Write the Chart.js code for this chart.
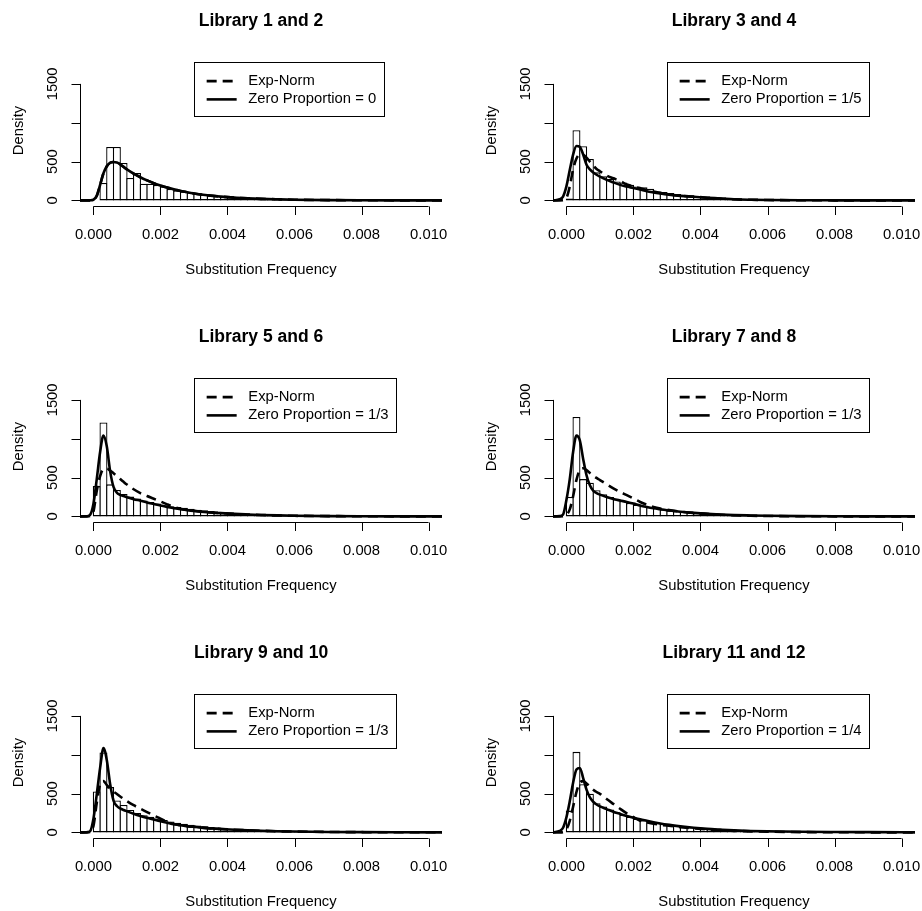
<!DOCTYPE html>
<html>
<head>
<meta charset="utf-8">
<script src="https://cdn.jsdelivr.net/npm/chart.js@4.4.1/dist/chart.umd.min.js"></script>
<style>
  body { margin: 0; background: #fff; }
  #page { position: relative; width: 922px; height: 911px; overflow: hidden; background: #fff; }
  #page canvas { position: absolute; }
</style>
</head>
<body>
<div id="page"></div>
<script>
// panel titles and legend labels
const titles = ['Library 1 and 2', 'Library 3 and 4', 'Library 5 and 6',
                'Library 7 and 8', 'Library 9 and 10', 'Library 11 and 12'];
const zeroProportions = ['0', '1/5', '1/3', '1/3', '1/3', '1/4'];

const xTicks = [0, 0.002, 0.004, 0.006, 0.008, 0.01];
const xTickLabels = ['0.000', '0.002', '0.004', '0.006', '0.008', '0.010'];
const yTicks = [0, 500, 1000, 1500];
const yTickLabels = ['0', '500', '', '1500']; // R drops the 1000 label (overlap)
const xLabel = 'Substitution Frequency';
const yLabel = 'Density';

// histogram bins, width 0.0002 from 0 to 0.01
const BIN = 0.0002;
const binMids = Array.from({ length: 50 }, (_, k) => (k + 0.5) * BIN);

const hist12 = [0, 224, 688, 688, 482, 288, 353, 215, 215, 200,
                180, 146, 129, 116, 103, 86, 77, 69, 60, 52,
                47, 39, 34, 30, 26, 22, 18, 15, 13, 11,
                9, 8, 7, 6, 5, 4, 3, 3, 2, 2,
                2, 1, 1, 1, 1, 1, 0, 0, 0, 0];
const hist34 = [25, 903, 697, 533, 361, 310, 275, 245, 232, 202,
                180, 168, 150, 116, 107, 95, 82, 73, 65, 56,
                47, 39, 34, 26, 22, 18, 14, 11, 9, 7,
                5, 4, 3, 2, 2, 1, 1, 1, 1, 0,
                0, 0, 0, 0, 0, 0, 0, 0, 0, 0];
const hist56 = [390, 1210, 413, 340, 290, 255, 230, 205, 186, 165,
                143, 130, 121, 113, 100, 87, 78, 69, 61, 52,
                43, 39, 35, 30, 26, 22, 18, 15, 12, 10,
                8, 6, 5, 4, 3, 2, 2, 1, 1, 1,
                0, 0, 0, 0, 0, 0, 0, 0, 0, 0];
const hist78 = [250, 1279, 480, 433, 338, 286, 251, 221, 199, 173,
                152, 134, 121, 108, 91, 78, 69, 60, 52, 45,
                39, 34, 29, 25, 21, 17, 14, 11, 9, 7,
                6, 5, 4, 3, 2, 2, 1, 1, 1, 1,
                0, 0, 0, 0, 0, 0, 0, 0, 0, 0];
const hist910 = [527, 1028, 583, 410, 354, 290, 250, 222, 200, 180,
                 160, 140, 124, 110, 99, 88, 78, 69, 62, 55,
                 48, 43, 38, 33, 29, 25, 21, 18, 15, 13,
                 11, 9, 8, 7, 6, 5, 4, 3, 3, 2,
                 2, 2, 1, 1, 1, 1, 1, 0, 0, 0];
const hist1112 = [281, 1037, 620, 497, 376, 333, 294, 259, 229, 203,
                  177, 156, 134, 121, 108, 95, 86, 78, 69, 60,
                  52, 43, 39, 34, 30, 26, 22, 19, 16, 13,
                  11, 9, 8, 7, 6, 5, 4, 3, 3, 2,
                  2, 2, 1, 1, 1, 1, 1, 0, 0, 0];

// fitted densities, sampled at curveX
const curveX = [-0.0004, -0.0002, -0.0001, 0, 0.0001, 0.0002, 0.0003, 0.0004, 0.0005, 0.0006,
                0.0007, 0.0008, 0.0009, 0.001, 0.0012, 0.0014, 0.0016, 0.0018, 0.002, 0.0022,
                0.0024, 0.0026, 0.0028, 0.003, 0.0034, 0.0038, 0.0042, 0.0046, 0.005, 0.0055,
                0.006, 0.007, 0.008, 0.009, 0.0104];

const exp12 = [0, 0, 1, 8, 60, 200, 350, 440, 485, 495,
               488, 465, 432, 400, 345, 298, 258, 222, 192, 165,
               142, 122, 105, 90, 66, 49, 36, 27, 20, 14,
               9, 4, 2, 1, 0];
const zero12 = [0, 0, 1, 8, 60, 200, 350, 440, 485, 495,
                488, 465, 432, 400, 345, 298, 258, 222, 192, 165,
                142, 122, 105, 90, 66, 49, 36, 27, 20, 14,
                9, 4, 2, 1, 0];

const exp34 = [0, 0, 2, 30, 180, 400, 540, 590, 585, 550,
               500, 450, 405, 375, 320, 285, 250, 205, 180, 155,
               135, 115, 97, 82, 60, 48, 35, 24, 14, 8,
               5, 2, 1, 0, 0];
const zero34 = [0, 15, 50, 180, 390, 590, 700, 690, 590, 460,
                400, 360, 330, 305, 265, 232, 200, 178, 160, 140,
                118, 102, 88, 75, 58, 47, 35, 25, 14, 8,
                5, 2, 1, 0, 0];

const exp56 = [0, 0, 5, 60, 330, 520, 610, 615, 590, 555,
               520, 482, 445, 410, 350, 300, 262, 228, 192, 155,
               122, 98, 84, 72, 55, 43, 32, 24, 18, 12,
               8, 4, 2, 1, 0];
const zero56 = [0, 2, 20, 160, 480, 830, 1040, 900, 580, 380,
                305, 278, 262, 248, 222, 202, 180, 160, 140, 122,
                105, 92, 80, 70, 54, 42, 32, 25, 19, 13,
                9, 4, 2, 1, 0];

const exp78 = [0, 0, 2, 20, 90, 260, 470, 600, 620, 595,
               560, 525, 495, 468, 415, 360, 315, 273, 230, 186,
               150, 121, 100, 85, 62, 45, 33, 22, 14, 8,
               5, 2, 1, 0, 0];
const zero78 = [0, 5, 25, 210, 480, 830, 1040, 980, 740, 530,
                400, 330, 300, 280, 250, 225, 205, 186, 165, 140,
                121, 105, 92, 80, 60, 45, 33, 24, 17, 12,
                8, 4, 2, 1, 0];

const exp910 = [0, 0, 5, 80, 380, 620, 660, 610, 565, 525,
                495, 462, 432, 402, 350, 305, 262, 218, 178, 135,
                108, 92, 80, 72, 55, 44, 35, 27, 21, 15,
                11, 6, 3, 2, 1];
const zero910 = [0, 3, 15, 173, 490, 830, 1085, 930, 620, 410,
                 340, 308, 288, 272, 240, 212, 188, 165, 145, 125,
                 105, 92, 80, 72, 55, 44, 35, 27, 21, 15,
                 11, 6, 3, 2, 1];

const exp1112 = [0, 0, 3, 40, 150, 330, 520, 640, 660, 630,
                 590, 550, 520, 497, 430, 367, 305, 246, 195, 151,
                 130, 112, 99, 88, 68, 52, 39, 28, 20, 13,
                 9, 4, 2, 1, 0];
const zero1112 = [0, 20, 60, 194, 400, 640, 810, 830, 700, 550,
                  450, 395, 360, 335, 300, 265, 238, 212, 188, 168,
                  150, 132, 115, 100, 78, 60, 46, 36, 27, 19,
                  14, 8, 5, 3, 1];

const hists = [hist12, hist34, hist56, hist78, hist910, hist1112];
const expNorms = [exp12, exp34, exp56, exp78, exp910, exp1112];
const zeroProps = [zero12, zero34, zero56, zero78, zero910, zero1112];

const FONT = '"Liberation Sans", Arial, Helvetica, sans-serif';
const colX = [0, 473];
const rowY = [0, 316, 632];

// R-like axes, labels, title and boxed legend, all placed with the chart's scales
const rAxes = {
  id: 'rAxes',
  afterDraw(chart, args, opts) {
    const { ctx, chartArea: a, scales: { x, y } } = chart;
    const midX = (a.left + a.right) / 2;
    ctx.save();
    ctx.strokeStyle = '#000';
    ctx.fillStyle = '#000';
    ctx.lineWidth = 1;

    // x axis
    const xb = a.bottom + 0.5;
    ctx.beginPath();
    ctx.moveTo(x.getPixelForValue(xTicks[0]), xb);
    ctx.lineTo(x.getPixelForValue(xTicks[xTicks.length - 1]), xb);
    xTicks.forEach(v => {
      const px = Math.round(x.getPixelForValue(v)) + 0.5;
      ctx.moveTo(px, xb);
      ctx.lineTo(px, xb + 8.5);
    });
    // y axis
    const yl = a.left + 0.5;
    ctx.moveTo(yl, y.getPixelForValue(yTicks[0]));
    ctx.lineTo(yl, y.getPixelForValue(yTicks[yTicks.length - 1]));
    yTicks.forEach(v => {
      const py = Math.round(y.getPixelForValue(v)) + 0.5;
      ctx.moveTo(yl, py);
      ctx.lineTo(yl - 9, py);
    });
    ctx.stroke();

    ctx.font = '14.8px ' + FONT;
    ctx.textAlign = 'center';
    ctx.textBaseline = 'middle';
    xTicks.forEach((v, k) => ctx.fillText(xTickLabels[k], x.getPixelForValue(v), a.bottom + 29));
    yTicks.forEach((v, k) => {
      ctx.save();
      ctx.translate(a.left - 27, y.getPixelForValue(v));
      ctx.rotate(-Math.PI / 2);
      ctx.fillText(yTickLabels[k], 0, 0);
      ctx.restore();
    });
    ctx.fillText(xLabel, midX, a.bottom + 64);
    ctx.save();
    ctx.translate(18.5, (a.top + a.bottom) / 2);
    ctx.rotate(-Math.PI / 2);
    ctx.fillText(yLabel, 0, 0);
    ctx.restore();

    ctx.font = 'bold 17.5px ' + FONT;
    ctx.fillText(opts.title, midX, 21);

    // legend box at (0.003, 1800) in data units
    ctx.font = '14.8px ' + FONT;
    const lines = chart.data.datasets.filter(d => d.type === 'line');
    const lx = x.getPixelForValue(0.003);
    const ly = y.getPixelForValue(1800) + 1;
    const tw = Math.max(...lines.map(d => ctx.measureText(d.label).width));
    ctx.fillStyle = '#fff';
    ctx.fillRect(lx, ly, 54.3 + tw + 7.5, 54.3);
    ctx.strokeRect(Math.round(lx) + 0.5, Math.round(ly) + 0.5, Math.round(54.3 + tw + 7.5), 54);
    ctx.fillStyle = '#000';
    ctx.textAlign = 'left';
    lines.forEach((d, k) => {
      const ry = ly + 19.5 + k * 18.3;
      ctx.save();
      ctx.lineWidth = d.borderWidth;
      ctx.setLineDash(d.borderDash || []);
      ctx.beginPath();
      ctx.moveTo(lx + 12.7, ry);
      ctx.lineTo(lx + 42.7, ry);
      ctx.stroke();
      ctx.restore();
      ctx.fillText(d.label, lx + 54.3, ry);
    });
    ctx.restore();
  }
};

const page = document.getElementById('page');

titles.forEach((title, i) => {
  const canvas = document.createElement('canvas');
  canvas.width = 461;
  canvas.height = 316;
  canvas.style.left = colX[i % 2] + 'px';
  canvas.style.top = rowY[Math.floor(i / 2)] + 'px';
  page.appendChild(canvas);

  new Chart(canvas, {
    type: 'bar',
    data: {
      datasets: [
        {
          type: 'line',
          label: 'Exp-Norm',
          data: curveX.map((v, k) => ({ x: v, y: expNorms[i][k] })),
          borderColor: '#000',
          borderWidth: 2.6,
          borderDash: [10, 6],
          borderJoinStyle: 'round',
          pointRadius: 0,
          cubicInterpolationMode: 'monotone',
          order: 1
        },
        {
          type: 'line',
          label: 'Zero Proportion = ' + zeroProportions[i],
          data: curveX.map((v, k) => ({ x: v, y: zeroProps[i][k] })),
          borderColor: '#000',
          borderWidth: 2.6,
          borderJoinStyle: 'round',
          borderCapStyle: 'round',
          pointRadius: 0,
          cubicInterpolationMode: 'monotone',
          order: 0
        },
        {
          type: 'bar',
          label: 'Histogram',
          data: binMids.map((v, k) => ({ x: v, y: hists[i][k] })),
          backgroundColor: '#fff',
          borderColor: '#000',
          borderWidth: 1.3,
          borderSkipped: false,
          barPercentage: 1.19,
          categoryPercentage: 1,
          order: 2
        }
      ]
    },
    options: {
      responsive: false,
      animation: false,
      devicePixelRatio: 1,
      layout: { padding: { left: 80, right: 19, top: 55, bottom: 110 } },
      scales: {
        x: { type: 'linear', min: -0.0004, max: 0.0104, offset: false, display: false },
        y: { type: 'linear', min: -72, max: 1872, display: false }
      },
      plugins: {
        legend: { display: false },
        tooltip: { enabled: false },
        rAxes: { title: title }
      }
    },
    plugins: [rAxes]
  });
});
</script>
</body>
</html>
